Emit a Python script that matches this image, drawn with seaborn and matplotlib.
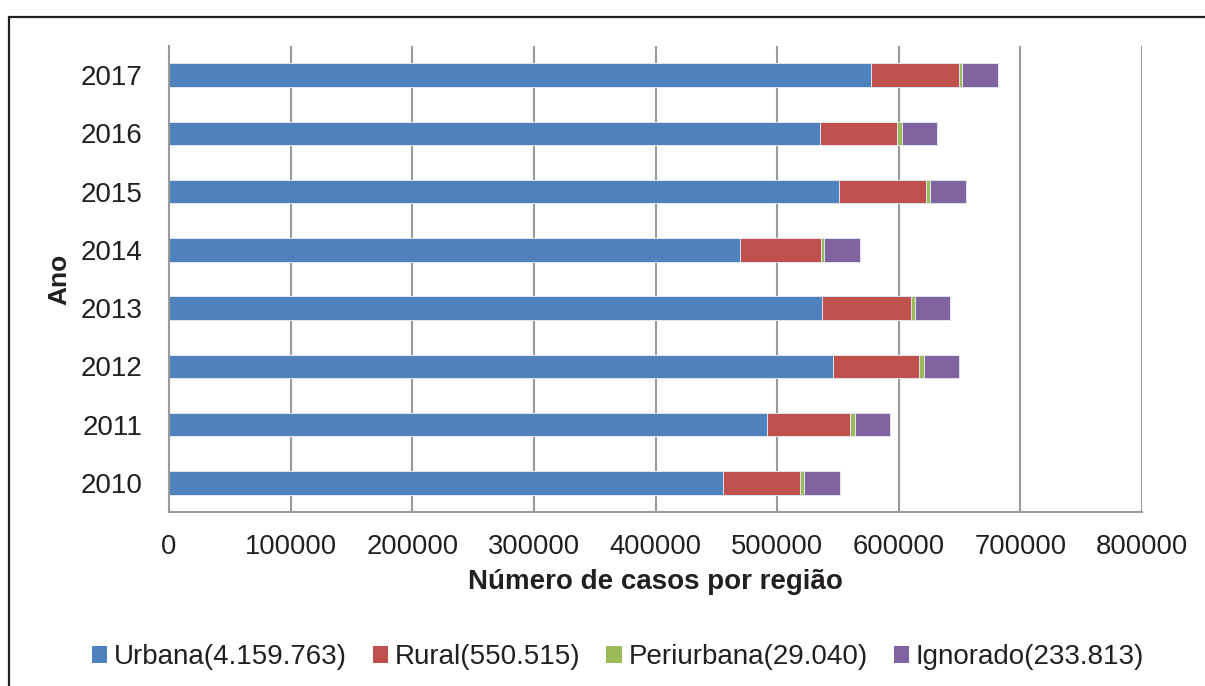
import numpy as np
import pandas as pd
import seaborn as sns
import matplotlib.pyplot as plt
from matplotlib.patches import Patch
from matplotlib.lines import Line2D

# Casos por ano e por tipo de região (2017 no topo)
anos = ["2017", "2016", "2015", "2014", "2013", "2012", "2011", "2010"]
urbana = [577000, 535100, 550700, 469200, 536700, 546100, 491400, 455200]
rural = [72200, 63300, 71400, 66700, 73000, 70400, 68900, 64000]
periurbana = [3000, 4400, 3700, 2900, 3700, 4300, 3800, 3200]
ignorado = [29400, 28800, 29400, 29700, 29100, 29100, 29100, 29200]

series_nomes = ["Urbana(4.159.763)", "Rural(550.515)", "Periurbana(29.040)", "Ignorado(233.813)"]
cores = ["#4F81BD", "#C0504D", "#9BBB59", "#8064A2"]

sns.set_style("white")
plt.rcParams["font.family"] = ["Liberation Sans", "DejaVu Sans"]

df = pd.DataFrame({"Ano": anos, "Urbana": urbana, "Rural": rural,
                   "Periurbana": periurbana, "Ignorado": ignorado})
cols = ["Urbana", "Rural", "Periurbana", "Ignorado"]
cum = df[cols].cumsum(axis=1)

fig = plt.figure(figsize=(12.05, 6.86), dpi=100)
ax = fig.add_axes([169 / 1205, 1 - 512 / 686, (1142 - 169) / 1205, (512 - 46) / 686])

grid_c = "#9a9a9a"
txt_c = "#231f20"
ax.set_xlim(0, 800000)
ax.set_xticks(np.arange(0, 800001, 100000))
for xv in np.arange(100000, 800001, 100000):
    ax.axvline(xv, color=grid_c, lw=1.5, zorder=0)

# stacked bars: draw cumulative totals from the outermost segment inwards
for col, cor in reversed(list(zip(cols, cores))):
    sns.barplot(x=cum[col], y=df["Ano"], order=anos, orient="h", color=cor,
                saturation=1, width=0.4, errorbar=None, ax=ax,
                edgecolor="#dfe6f0", linewidth=0.7, zorder=2)

ax.set_ylim(7.5, -0.5)
ax.set_xticklabels([str(v) for v in range(0, 800001, 100000)])

for s in ["top", "right"]:
    ax.spines[s].set_visible(False)
for s in ["left", "bottom"]:
    ax.spines[s].set_color(grid_c)
    ax.spines[s].set_linewidth(1.5)

ax.set_yticks(np.arange(-0.5, 8, 1), minor=True)
ax.tick_params(axis="y", which="major", length=0, pad=19, labelsize=20, labelcolor=txt_c)
ax.tick_params(axis="y", which="minor", length=6, width=1.5, color=grid_c, direction="out")
ax.tick_params(axis="x", which="major", length=6, width=1.5, color=grid_c, direction="out",
               pad=10, labelsize=19.7, labelcolor=txt_c)

ax.set_xlabel("Número de casos por região", fontsize=20, fontweight="bold",
              color=txt_c, labelpad=6)
ax.set_ylabel("Ano", fontsize=19, fontweight="bold", color=txt_c)
ax.yaxis.set_label_coords((71 - 169) / (1142 - 169), 0.5)

handles = [Patch(facecolor=c, edgecolor="none") for c in cores]
fig.legend(handles, series_nomes, loc="center", bbox_to_anchor=(618 / 1205, 1 - 657 / 686),
           ncol=4, frameon=False, fontsize=20, handlelength=0.55, handleheight=0.55,
           handletextpad=0.25, columnspacing=0.93, labelcolor=txt_c)

# moldura do gráfico
fig.add_artist(Line2D([9 / 1205, 9 / 1205], [0, 1 - 17 / 686], color="#222222", lw=1.6,
                      transform=fig.transFigure))
fig.add_artist(Line2D([9 / 1205, 1], [1 - 17 / 686, 1 - 17 / 686], color="#222222", lw=1.6,
                      transform=fig.transFigure))

fig.savefig("out.png", dpi=100)
